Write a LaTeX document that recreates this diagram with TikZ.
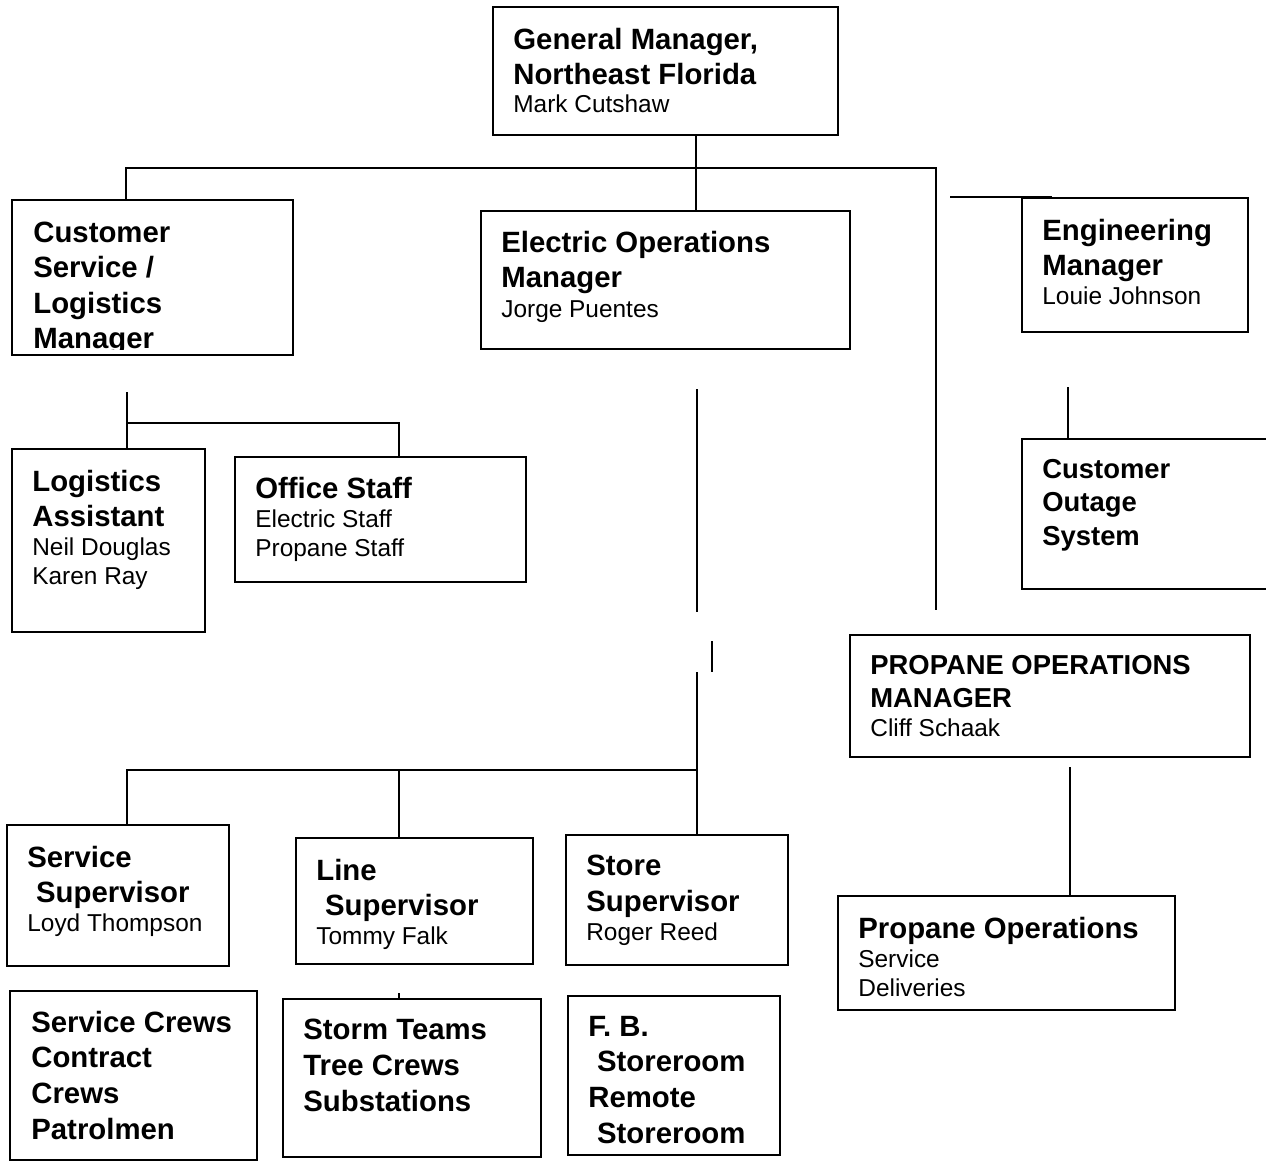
\documentclass[tikz,border=0pt]{standalone}
\usepackage{fontspec}
\setmainfont{Liberation Sans}
\usetikzlibrary{fit}
\tikzstyle{orgbox}=[draw, line width=1.3pt, inner sep=0pt]
\tikzstyle{link}=[line width=0.7pt]
\tikzstyle{txt}=[anchor=north west, inner sep=0pt, align=left, font=\fontsize{13.9}{16.4}\selectfont]
\newcommand{\boxtitle}[1]{{\fontsize{16.7}{20}\selectfont\bfseries #1}}
\newcommand{\boxtitlesm}[1]{{\fontsize{15.6}{18}\selectfont\bfseries #1}}

\begin{document}
\begin{tikzpicture}[x=0.02cm, y=-0.02cm]
\useasboundingbox (0,0) rectangle (1266,1161);

% boxes
\node[orgbox, fit={(493,7) (838,135)}] (gm) {};
\node[orgbox, fit={(12,200) (293,355)}] (cs) {};
\node[orgbox, fit={(481,211) (850,349)}] (eo) {};
\node[orgbox, fit={(1022,198) (1248,332)}] (eng) {};
\node[orgbox, fit={(1022,439) (1270,589)}] (cos) {};
\node[orgbox, fit={(12,449) (205,632)}] (la) {};
\node[orgbox, fit={(235,457) (526,582)}] (os) {};
\node[orgbox, fit={(850,635) (1250,757)}] (pom) {};
\node[orgbox, fit={(7,825) (229,966)}] (ss) {};
\node[orgbox, fit={(296,838) (533,964)}] (ls) {};
\node[orgbox, fit={(566,835) (788,965)}] (sts) {};
\node[orgbox, fit={(10,991) (257,1160)}] (sc) {};
\node[orgbox, fit={(283,999) (541,1157)}] (st) {};
\node[orgbox, fit={(568,996) (780,1155)}] (fb) {};
\node[orgbox, fit={(838,896) (1175,1010)}] (po) {};

% texts
\node[txt] (gm-t) at (513,27.5) {\boxtitle{General Manager,}\\[3.5pt]\boxtitle{Northeast Florida}\\[0pt]Mark Cutshaw};
\begin{scope}
\clip (12,200) rectangle (293,349);
\node[txt] (cs-t) at (33,221.5) {\boxtitle{Customer}\\[3.8pt]\boxtitle{Service /}\\[3.8pt]\boxtitle{Logistics}\\[3.8pt]\boxtitle{Manager}};
\end{scope}
\node[txt] (eo-t) at (501,230.5) {\boxtitle{Electric Operations}\\[4pt]\boxtitle{Manager}\\[0.3pt]Jorge Puentes};
\node[txt] (eng-t) at (1042,218.5) {\boxtitle{Engineering}\\[4pt]\boxtitle{Manager}\\[0pt]Louie Johnson};
\node[txt] (cos-t) at (1042,458.5) {\boxtitlesm{Customer}\\[2.9pt]\boxtitlesm{Outage}\\[2.9pt]\boxtitlesm{System}};
\node[txt] (la-t) at (32,469.5) {\boxtitle{Logistics}\\[3.8pt]\boxtitle{Assistant}\\[0pt]Neil Douglas\\Karen Ray};
\node[txt] (os-t) at (255,476.5) {\boxtitle{Office Staff}\\[0.2pt]Electric Staff\\Propane Staff};
\node[txt] (pom-t) at (870,654.5) {\boxtitlesm{PROPANE OPERATIONS}\\[2.6pt]\boxtitlesm{MANAGER}\\[0.3pt]Cliff Schaak};
\node[txt] (ss-t) at (27,845.5) {\boxtitle{Service}\\[3.8pt]\boxtitle{\hspace*{5pt}Supervisor}\\[0pt]Loyd Thompson};
\node[txt] (ls-t) at (316,858.5) {\boxtitle{Line}\\[3.8pt]\boxtitle{\hspace*{5pt}Supervisor}\\[0.3pt]Tommy Falk};
\node[txt] (sts-t) at (586,854.5) {\boxtitle{Store}\\[4pt]\boxtitle{Supervisor}\\[0.3pt]Roger Reed};
\node[txt] (sc-t) at (31,1010.5) {\boxtitle{Service Crews}\\[4pt]\boxtitle{Contract}\\[4pt]\boxtitle{Crews}\\[4pt]\boxtitle{Patrolmen}};
\node[txt] (st-t) at (303,1018.5) {\boxtitle{Storm Teams}\\[4pt]\boxtitle{Tree Crews}\\[4pt]\boxtitle{Substations}};
\node[txt] (fb-t) at (588,1015.5) {\boxtitle{F. B.}\\[4pt]\boxtitle{\hspace*{5pt}Storeroom}\\[4pt]\boxtitle{Remote}\\[4pt]\boxtitle{\hspace*{5pt}Storeroom}};
\node[txt] (po-t) at (858,916.5) {\boxtitle{Propane Operations}\\[0.5pt]Service\\Deliveries};

% top level
\coordinate (mainx) at (696,168);
\coordinate (busl) at (126,168);
\coordinate (busr) at (936,168);
\coordinate (propend) at (936,610);
\draw[link] (gm.south -| mainx) -- (eo.north -| mainx);
\draw[link] (cs.north -| busl) -- (busl) -- (busr) -- (propend);
\coordinate (engl) at (950,197);
\coordinate (engr) at (1052,197);
\draw[link] (engl) -- (engr);

% customer service
\coordinate (csdown) at (127,392);
\coordinate (csbus) at (127,423);
\coordinate (osbus) at (399,423);
\draw[link] (csdown) -- (la.north -| csdown);
\draw[link] (csbus) -- (osbus) -- (os.north -| osbus);

% electric operations
\coordinate (eo1) at (697,389);
\coordinate (eo2) at (697,612);
\coordinate (eo3) at (712,641);
\coordinate (eo4) at (712,672);
\coordinate (eo5) at (697,672);
\coordinate (eobus) at (697,770);
\coordinate (ssbus) at (127,770);
\coordinate (lsbus) at (399,770);
\draw[link] (eo1) -- (eo2);
\draw[link] (eo3) -- (eo4);
\draw[link] (eo5) -- (eobus) -- (ssbus) -- (ss.north -| ssbus);
\draw[link] (lsbus) -- (ls.north -| lsbus);
\draw[link] (eobus) -- (sts.north -| eobus);
\coordinate (sttick) at (399,993);
\draw[link] (sttick) -- (st.north -| sttick);

% engineering and propane
\coordinate (engdown) at (1068,387);
\draw[link] (engdown) -- (cos.north -| engdown);
\coordinate (podown) at (1070,767);
\draw[link] (podown) -- (po.north -| podown);

\end{tikzpicture}
\end{document}
